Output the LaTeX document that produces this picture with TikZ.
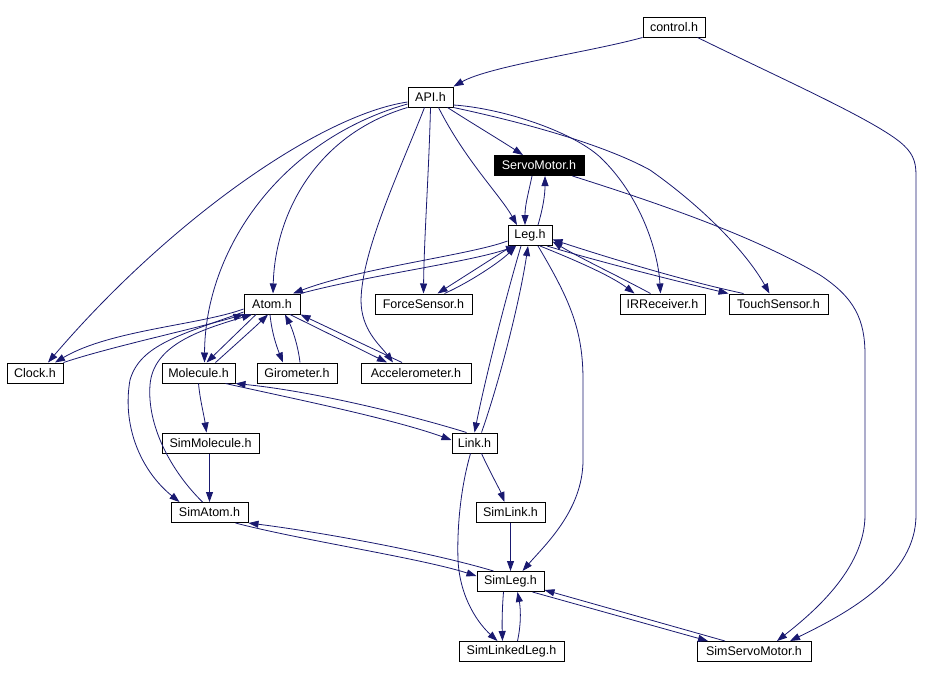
\documentclass[tikz,border=0pt]{standalone}
\usepackage{fontspec}
\setmainfont{Liberation Sans}
\usetikzlibrary{arrows.meta}
\definecolor{edgeblue}{HTML}{191970}
\begin{document}
\begin{tikzpicture}[x=1pt,y=-1pt,
  box/.style={draw=black,line width=1pt,inner sep=0pt,minimum height=20pt,fill=white,font=\fontsize{12.5}{14}\selectfont},
  cur/.style={box,fill=black,text=white},
  e/.style={draw=edgeblue,line width=0.8pt,-{Triangle[length=10pt,width=7pt]}}
]
\fill[white] (0,0) rectangle (934,678);
\useasboundingbox (0,0) rectangle (934,678);

% nodes
\node[box,minimum width=62pt] (control) at (674,27) {control.h};
\node[box,minimum width=45pt] (API) at (430.5,97) {API.h};
\node[cur,minimum width=90pt] (ServoMotor) at (539,165.5) {ServoMotor.h};
\node[box,minimum width=44pt] (Leg) at (530,235.5) {Leg.h};
\node[box,minimum width=56pt] (Atom) at (272,304) {Atom.h};
\node[box,minimum width=97pt] (ForceSensor) at (423.5,304) {ForceSensor.h};
\node[box,minimum width=85pt] (IRReceiver) at (662.5,304) {IRReceiver.h};
\node[box,minimum width=99pt] (TouchSensor) at (778.5,304) {TouchSensor.h};
\node[box,minimum width=56pt] (Clock) at (35,373) {Clock.h};
\node[box,minimum width=73pt] (Molecule) at (198.5,373) {Molecule.h};
\node[box,minimum width=80pt] (Girometer) at (297,373) {Girometer.h};
\node[box,minimum width=110pt] (Accelerometer) at (416,373) {Accelerometer.h};
\node[box,minimum width=97pt] (SimMolecule) at (210.5,443) {SimMolecule.h};
\node[box,minimum width=45pt] (Link) at (474.5,443) {Link.h};
\node[box,minimum width=77pt] (SimAtom) at (209.5,512.5) {SimAtom.h};
\node[box,minimum width=69pt] (SimLink) at (510.5,512.5) {SimLink.h};
\node[box,minimum width=67pt] (SimLeg) at (510.5,581.5) {SimLeg.h};
\node[box,minimum width=105pt] (SimLinkedLeg) at (511.5,651.5) {SimLinkedLeg.h};
\node[box,minimum width=114pt] (SimServoMotor) at (754,651.5) {SimServoMotor.h};

% control.h
\draw[e] (control.south west) .. controls (590,52) and (490,66) .. (API.north east);
\draw[e] ([xshift=-8pt]control.south east) .. controls (780,78) and (870,118) .. (900,142) .. controls (912,152) and (916,160) .. (916,175) -- (916,515) .. controls (916,575) and (850,612) .. ([xshift=36pt]SimServoMotor.north);

% API.h
\draw[e] ([xshift=17pt]API.south) .. controls (470,122) and (500,140) .. ([xshift=-16pt]ServoMotor.north);
\draw[e] ([xshift=8pt]API.south) .. controls (465,160) and (500,195) .. ([xshift=-13pt]Leg.north);
\draw[e] (API.south) .. controls (429,170) and (424,240) .. (ForceSensor.north);
\draw[e] (API.south west) .. controls (315,135) and (275,215) .. ([xshift=1pt]Atom.north);
\draw[e] ([yshift=-7pt]API.west) .. controls (280,140) and (205,250) .. ([xshift=6pt]Molecule.north);
\draw[e] ([yshift=-5pt]API.west) .. controls (320,115) and (170,220) .. ([xshift=13pt]Clock.north);
\draw[e] ([xshift=-6pt]API.south) .. controls (400,170) and (362,250) .. (361,300) .. controls (361,330) and (380,345) .. ([xshift=-23pt]Accelerometer.north);
\draw[e] ([yshift=-8pt]API.east) .. controls (500,108) and (570,130) .. (600,157) .. controls (640,195) and (658,250) .. ([xshift=-2pt]IRReceiver.north);
\draw[e] (API.south east) .. controls (540,126) and (610,148) .. (650,170) .. controls (700,205) and (745,250) .. ([xshift=-9pt]TouchSensor.north);

% ServoMotor.h
\draw[e] ([xshift=-7pt]ServoMotor.south) .. controls (528,195) and (525,205) .. ([xshift=-5pt]Leg.north);
\draw[e] ([xshift=-12pt]ServoMotor.south east) .. controls (680,210) and (760,240) .. (820,275) .. controls (855,298) and (865,320) .. (865,355) -- (865,515) .. controls (865,570) and (810,615) .. ([xshift=23pt]SimServoMotor.north);

% Leg.h
\draw[e] ([xshift=8pt]Leg.north) .. controls (543,208) and (545,195) .. ([xshift=6pt]ServoMotor.south);
\draw[e] ([yshift=-5.5pt]Leg.west) .. controls (470,255) and (360,268) .. ([xshift=21pt]Atom.north);
\draw[e] ([xshift=-18pt]Leg.south) -- ([xshift=14pt]ForceSensor.north);
\draw[e] ([xshift=10pt]Leg.south) .. controls (570,258) and (610,275) .. ([xshift=-28pt]IRReceiver.north);
\draw[e] ([xshift=17pt]Leg.south) .. controls (600,262) and (680,282) .. (TouchSensor.north west);
\draw[e] ([xshift=-9pt]Leg.south) .. controls (505,300) and (485,380) .. (Link.north);
\draw[e] ([xshift=8pt]Leg.south) .. controls (570,300) and (583,330) .. (583,380) -- (583,460) .. controls (583,510) and (545,545) .. ([xshift=12pt]SimLeg.north);

% into Leg.h
\draw[e] (Atom.north east) .. controls (370,275) and (470,262) .. ([xshift=-14pt]Leg.south);
\draw[e] ([xshift=21pt]ForceSensor.north) .. controls (470,282) and (500,262) .. ([xshift=-14pt]Leg.south);
\draw[e] ([xshift=-12pt]IRReceiver.north) .. controls (620,277) and (580,258) .. ([yshift=-6pt]Leg.east);
\draw[e] ([xshift=-35pt]TouchSensor.north) .. controls (680,280) and (600,255) .. ([yshift=-4pt]Leg.east);
\draw[e] ([xshift=7pt]Link.north) .. controls (500,380) and (520,300) .. ([xshift=-2pt]Leg.south);

% Atom.h
\draw[e] ([yshift=-5pt]Atom.west) .. controls (200,325) and (110,330) .. ([xshift=20pt]Clock.north);
\draw[e] (Clock.north east) .. controls (110,347) and (190,330) .. (Atom.south west);
\draw[e] ([xshift=-16pt]Atom.south) -- ([xshift=8pt]Molecule.north);
\draw[e] ([xshift=17pt]Molecule.north) .. controls (235,345) and (255,327) .. ([xshift=-4pt]Atom.south);
\draw[e] ([yshift=-8pt]Atom.west) .. controls (180,335) and (140,345) .. (130,380) .. controls (122,425) and (140,470) .. ([xshift=-30pt]SimAtom.north);
\draw[e] ([xshift=-7pt]SimAtom.north) .. controls (170,470) and (147,425) .. (150,385) .. controls (153,345) and (200,330) .. ([xshift=-20pt]Atom.south);
\draw[e] ([xshift=-2pt]Atom.south) .. controls (272,335) and (278,350) .. ([xshift=-14pt]Girometer.north);
\draw[e] ([xshift=3pt]Girometer.north) .. controls (298,345) and (292,328) .. ([xshift=13pt]Atom.south);
\draw[e] ([xshift=18pt]Atom.south) -- ([xshift=-29pt]Accelerometer.north);
\draw[e] ([xshift=-14pt]Accelerometer.north) -- (Atom.south east);

% Molecule.h / Link.h
\draw[e] (Molecule.south) .. controls (200,400) and (204,415) .. ([xshift=-4pt]SimMolecule.north);
\draw[e] ([xshift=27pt]Molecule.south) .. controls (290,398) and (390,418) .. ([yshift=3pt]Link.west);
\draw[e] ([xshift=-8pt]Link.north) .. controls (420,418) and (320,392) .. (Molecule.south east);
\draw[e] ([xshift=-1pt]SimMolecule.south) -- (SimAtom.north);
\draw[e] ([xshift=7pt]Link.south) .. controls (490,472) and (500,490) .. ([xshift=-6pt]SimLink.north);
\draw[e] ([xshift=-4pt]Link.south) .. controls (460,490) and (457,530) .. (458,560) .. controls (460,600) and (480,625) .. ([xshift=-14pt]SimLinkedLeg.north);
\draw[e] (SimLink.south) -- (SimLeg.north);

% SimAtom.h / SimLeg.h
\draw[e] ([xshift=26pt]SimAtom.south) .. controls (300,540) and (420,558) .. ([yshift=5.5pt]SimLeg.west);
\draw[e] ([xshift=-17pt]SimLeg.north) .. controls (430,552) and (320,532) .. (SimAtom.south east);
\draw[e] ([xshift=-7pt]SimLeg.south) .. controls (502,610) and (502,625) .. ([xshift=-9pt]SimLinkedLeg.north);
\draw[e] ([xshift=6pt]SimLinkedLeg.north) .. controls (522,620) and (520,605) .. ([xshift=7pt]SimLeg.south);
\draw[e] ([xshift=22pt]SimLeg.south) -- ([xshift=-46pt]SimServoMotor.north);
\draw[e] ([xshift=-29pt]SimServoMotor.north) -- ([yshift=2pt]SimLeg.south east);
\end{tikzpicture}
\end{document}
